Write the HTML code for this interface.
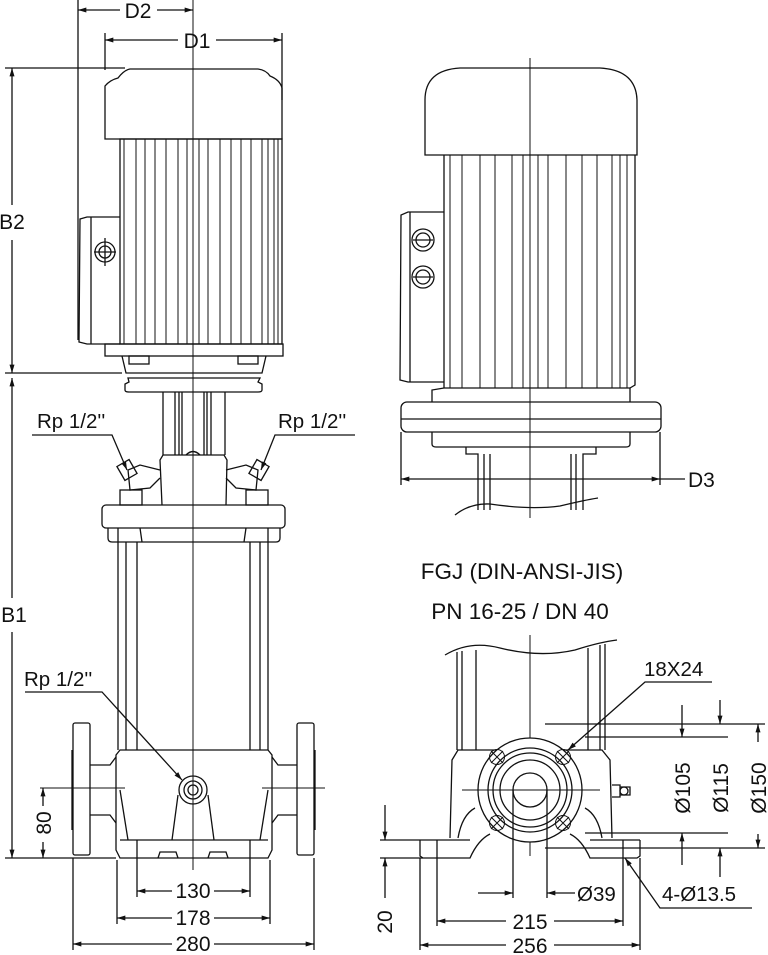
<!DOCTYPE html>
<html><head><meta charset="utf-8"><style>
html,body{margin:0;padding:0;background:#fff}
svg{display:block}
text{font-family:"Liberation Sans",Arial,sans-serif;fill:#111}
</style></head><body>
<svg width="768" height="955" viewBox="0 0 768 955" xmlns="http://www.w3.org/2000/svg">
<defs>
<marker id="a" viewBox="0 0 10 6" refX="10" refY="3" markerWidth="12" markerHeight="5" orient="auto-start-reverse" markerUnits="userSpaceOnUse"><path d="M0,0 L10,3 L0,6z" fill="#111"/></marker>
</defs>
<g fill="none" stroke="#111" stroke-width="1.3">
<line x1="193" y1="0" x2="193" y2="870" stroke-width="1"/>
<line x1="78" y1="0" x2="78" y2="340"/>
<line x1="78" y1="10" x2="120" y2="10" marker-start="url(#a)"/>
<line x1="157" y1="10" x2="193" y2="10" marker-end="url(#a)"/>
<line x1="105" y1="33" x2="105" y2="70"/><line x1="282" y1="33" x2="282" y2="100"/>
<line x1="105" y1="40" x2="178" y2="40" marker-start="url(#a)"/>
<line x1="216" y1="40" x2="282" y2="40" marker-end="url(#a)"/>
<line x1="5" y1="68" x2="125" y2="68"/><line x1="5" y1="373" x2="122" y2="373"/>
<line x1="12" y1="68" x2="12" y2="205" marker-start="url(#a)"/>
<line x1="12" y1="240" x2="12" y2="373" marker-end="url(#a)"/>
<line x1="12" y1="378" x2="12" y2="598" marker-start="url(#a)"/>
<line x1="12" y1="632" x2="12" y2="858" marker-end="url(#a)"/>
<line x1="5" y1="858" x2="116" y2="858"/>
<path d="M105,139 L105,86 Q110,80 118,78 Q124,70 130,69 L258,69 Q266,70 270,76 Q280,80 282,88 L282,139 Z"/>
<rect x="120" y="139" width="162" height="205"/>
<g stroke-width="1">
<line x1="124" y1="139" x2="124" y2="344"/><line x1="136" y1="139" x2="136" y2="344"/><line x1="145" y1="139" x2="145" y2="344"/><line x1="155" y1="139" x2="155" y2="344"/><line x1="166" y1="139" x2="166" y2="344"/><line x1="178" y1="139" x2="178" y2="344"/><line x1="187" y1="139" x2="187" y2="344"/><line x1="199" y1="139" x2="199" y2="344"/><line x1="208" y1="139" x2="208" y2="344"/><line x1="220" y1="139" x2="220" y2="344"/><line x1="231" y1="139" x2="231" y2="344"/><line x1="241" y1="139" x2="241" y2="344"/><line x1="251" y1="139" x2="251" y2="344"/><line x1="262" y1="139" x2="262" y2="344"/><line x1="268" y1="139" x2="268" y2="344"/><line x1="274" y1="139" x2="274" y2="344"/><line x1="278" y1="139" x2="278" y2="344"/>
</g>
<path d="M120,217 L87,217 L80,219 L79,342 L87,344 L120,344"/>
<line x1="91" y1="217" x2="91" y2="344"/>
<circle cx="105" cy="252" r="10"/><circle cx="105" cy="252" r="6"/>
<line x1="105" y1="238" x2="105" y2="266"/><line x1="94" y1="252" x2="116" y2="252"/>
<rect x="105" y="344" width="178" height="12"/>
<path d="M122,356 L126,373 L262,373 L266,356"/>
<rect x="129" y="356" width="20" height="8"/><rect x="238" y="356" width="20" height="8"/>
<path d="M128,378 L260,378 L258,382 L262,384 L262,390 Q262,392 258,392 L129,392 Q125,392 125,390 L125,384 L129,382 Z"/>
<line x1="163" y1="392" x2="163" y2="455"/><line x1="175" y1="392" x2="175" y2="455"/><line x1="179" y1="392" x2="179" y2="455"/><line x1="182" y1="392" x2="182" y2="455"/>
<line x1="204" y1="392" x2="204" y2="455"/><line x1="207" y1="392" x2="207" y2="455"/><line x1="211" y1="392" x2="211" y2="455"/><line x1="225" y1="392" x2="225" y2="455"/>
<path d="M186,455 Q193,448 200,455"/>
<path d="M162,505 L160,460 L163,455 L224,455 L227,460 L226,505"/>
<path d="M160,470 L140,465 L128,470 L130,490 L150,488 L160,478"/>
<path d="M226,470 L246,465 L258,470 L256,490 L236,488 L226,478"/>
<rect x="120" y="462" width="14" height="16" transform="rotate(-30 127 470)"/>
<rect x="252" y="462" width="14" height="16" transform="rotate(30 259 470)"/>
<rect x="120" y="490" width="22" height="15"/><rect x="246" y="490" width="22" height="15"/>
<rect x="102" y="505" width="183" height="23" rx="4"/>
<path d="M108,528 L108,538 Q108,542 112,542 L276,542 Q280,542 280,538 L280,528"/>
<path d="M140,528 L142,542 M246,528 L244,542"/>
<line x1="118" y1="528" x2="118" y2="750"/><line x1="126" y1="542" x2="126" y2="750"/><line x1="137" y1="542" x2="137" y2="750"/>
<line x1="250" y1="542" x2="250" y2="750"/><line x1="260" y1="542" x2="260" y2="750"/><line x1="268" y1="528" x2="268" y2="750"/>
<path d="M116,755 L120,750 L268,750 L272,755 L272,850 L268,858 L120,858 L116,850 Z"/>
<line x1="120" y1="840" x2="268" y2="840"/>
<path d="M116,757 L110,765 L90,765 M116,823 L110,815 L90,815"/>
<path d="M272,757 L278,765 L297,765 M272,823 L278,815 L297,815"/>
<rect x="73" y="723" width="17" height="132" rx="2"/><rect x="297" y="723" width="17" height="132" rx="2"/>
<path d="M72,750 L72,830 M315,750 L315,830"/>
<path d="M120,790 L128,840 M268,790 L260,840"/>
<path d="M178,795 L172,840 M208,795 L214,840"/>
<circle cx="193" cy="790" r="14"/><circle cx="193" cy="790" r="9"/><circle cx="193" cy="790" r="5"/>
<path d="M158,858 L160,852 L176,852 L178,858 M208,858 L210,852 L226,852 L228,858"/>
<line x1="40" y1="788" x2="125" y2="788" stroke-width="1"/><line x1="262" y1="788" x2="325" y2="788" stroke-width="1"/>
<line x1="43" y1="788" x2="43" y2="806" marker-start="url(#a)"/>
<line x1="43" y1="842" x2="43" y2="858" marker-end="url(#a)"/>
<line x1="137" y1="840" x2="137" y2="897"/><line x1="250" y1="840" x2="250" y2="897"/>
<line x1="117" y1="860" x2="117" y2="924"/><line x1="270" y1="860" x2="270" y2="924"/>
<line x1="73" y1="858" x2="73" y2="950"/><line x1="314" y1="858" x2="314" y2="950"/>
<line x1="137" y1="891" x2="172" y2="891" marker-start="url(#a)"/><line x1="214" y1="891" x2="250" y2="891" marker-end="url(#a)"/>
<line x1="117" y1="918" x2="172" y2="918" marker-start="url(#a)"/><line x1="214" y1="918" x2="270" y2="918" marker-end="url(#a)"/>
<line x1="73" y1="944" x2="172" y2="944" marker-start="url(#a)"/><line x1="214" y1="944" x2="314" y2="944" marker-end="url(#a)"/>
<polyline points="32,435 112,435 127,470" marker-end="url(#a)"/>
<polyline points="355,435 275,435 261,470" marker-end="url(#a)"/>
<polyline points="25,692 102,692 182,780" marker-end="url(#a)"/>

<line x1="530" y1="58" x2="530" y2="518" stroke-width="1"/>
<path d="M425,155 L425,100 Q425,70 460,68 L600,68 Q636,70 637,100 L637,155 Z"/>
<path d="M444,155 L444,388 M635,155 L635,385 L630,388"/>
<g stroke-width="1">
<line x1="450" y1="155" x2="450" y2="388"/><line x1="462" y1="155" x2="462" y2="388"/><line x1="480" y1="155" x2="480" y2="388"/><line x1="495" y1="155" x2="495" y2="388"/><line x1="512" y1="155" x2="512" y2="388"/><line x1="523" y1="155" x2="523" y2="388"/><line x1="538" y1="155" x2="538" y2="388"/><line x1="548" y1="155" x2="548" y2="388"/><line x1="566" y1="155" x2="566" y2="388"/><line x1="582" y1="155" x2="582" y2="388"/><line x1="597" y1="155" x2="597" y2="388"/><line x1="612" y1="155" x2="612" y2="388"/><line x1="620" y1="155" x2="620" y2="388"/><line x1="627" y1="155" x2="627" y2="388"/>
</g>
<path d="M444,212 L408,212 L401,215 L400,380 L408,382 L444,382"/>
<line x1="410" y1="212" x2="410" y2="382"/>
<circle cx="423" cy="240" r="11"/><circle cx="423" cy="240" r="7"/><line x1="413" y1="240" x2="433" y2="240"/>
<circle cx="423" cy="277" r="11"/><circle cx="423" cy="277" r="7"/><line x1="413" y1="277" x2="433" y2="277"/>
<path d="M432,402 L432,390 L444,388 L630,388 L630,402"/>
<rect x="401" y="402" width="260" height="30" rx="6"/>
<line x1="401" y1="419" x2="661" y2="419"/>
<path d="M432,432 L432,444 Q432,447 436,447 L626,447 Q630,447 630,444 L630,432"/>
<path d="M466,447 L466,454 L478,454 L478,510 M490,454 L490,510 M484,454 L484,510"/>
<path d="M596,447 L596,454 L583,454 L583,510 M571,454 L571,510 M576,454 L576,510"/>
<path d="M455,515 Q470,503 490,504 Q530,510 560,506 Q585,500 598,498"/>
<line x1="401" y1="432" x2="401" y2="485"/><line x1="660" y1="432" x2="660" y2="485"/>
<line x1="401" y1="479" x2="660" y2="479" marker-start="url(#a)" marker-end="url(#a)"/>
<line x1="660" y1="479" x2="685" y2="479"/>

<line x1="530" y1="635" x2="530" y2="856" stroke-width="1"/>
<path d="M445,655 Q470,640 500,648 Q540,658 575,650 Q600,642 617,640"/>
<line x1="457" y1="652" x2="457" y2="750"/><line x1="462" y1="651" x2="462" y2="750"/><line x1="476" y1="650" x2="476" y2="750"/>
<line x1="588" y1="648" x2="588" y2="750"/><line x1="600" y1="645" x2="600" y2="750"/><line x1="605" y1="644" x2="605" y2="750"/>
<path d="M450,838 L452,760 L458,750 L602,750 L610,760 L612,838"/>
<path d="M458,838 Q462,815 475,808 M602,838 Q598,815 585,808"/>
<path d="M420,840 L420,856 L423,858 L470,858 Q478,840 490,834 M640,840 L640,856 L637,858 L590,858 Q582,840 570,834"/>
<path d="M420,840 L470,840 M640,840 L590,840 M423,858 L420,858"/>
<line x1="437" y1="840" x2="437" y2="858"/><line x1="623" y1="840" x2="623" y2="858"/>
<circle cx="530" cy="790" r="52" fill="#fff"/><circle cx="530" cy="790" r="42"/><circle cx="530" cy="790" r="37"/><circle cx="530" cy="790" r="30"/><circle cx="530" cy="790" r="17"/>
<g stroke-width="1">
<circle cx="497" cy="757" r="7.5"/><circle cx="563" cy="757" r="7.5"/><circle cx="497" cy="823" r="7.5"/><circle cx="563" cy="823" r="7.5"/>
<path d="M491,751 L503,763 M503,751 L491,763 M557,751 L569,763 M569,751 L557,763 M491,817 L503,829 M503,817 L491,829 M557,817 L569,829 M569,817 L557,829"/>
</g>
<line x1="462" y1="790" x2="600" y2="790" stroke-width="1"/>
<path d="M612,785 L620,785 L620,797 L612,797 M620,787 L630,787 L630,795 L620,795"/>
<circle cx="624" cy="791" r="4"/>
<line x1="545" y1="724" x2="765" y2="724"/><line x1="585" y1="737" x2="728" y2="737"/>
<line x1="585" y1="833" x2="728" y2="833"/><line x1="545" y1="848" x2="765" y2="848"/>
<line x1="682" y1="705" x2="682" y2="737" marker-end="url(#a)"/>
<line x1="682" y1="833" x2="682" y2="865" marker-start="url(#a)"/>
<line x1="720" y1="700" x2="720" y2="724" marker-end="url(#a)"/>
<line x1="720" y1="848" x2="720" y2="877" marker-start="url(#a)"/>
<line x1="758" y1="724" x2="758" y2="742" marker-start="url(#a)"/>
<line x1="758" y1="834" x2="758" y2="848" marker-end="url(#a)"/>
<polyline points="712,682 645,682 568,750" marker-end="url(#a)"/>
<polyline points="752,908 660,908 625,858" marker-end="url(#a)"/>
<line x1="513" y1="790" x2="513" y2="898"/><line x1="547" y1="790" x2="547" y2="898"/>
<line x1="478" y1="893" x2="513" y2="893" marker-end="url(#a)"/>
<line x1="575" y1="893" x2="547" y2="893" marker-end="url(#a)"/>
<line x1="437" y1="858" x2="437" y2="926"/><line x1="623" y1="858" x2="623" y2="926"/>
<line x1="420" y1="858" x2="420" y2="950"/><line x1="640" y1="858" x2="640" y2="950"/>
<line x1="437" y1="921" x2="506" y2="921" marker-start="url(#a)"/><line x1="554" y1="921" x2="623" y2="921" marker-end="url(#a)"/>
<line x1="420" y1="945" x2="506" y2="945" marker-start="url(#a)"/><line x1="554" y1="945" x2="640" y2="945" marker-end="url(#a)"/>
<line x1="380" y1="840" x2="420" y2="840"/><line x1="380" y1="858" x2="420" y2="858"/>
<line x1="385" y1="805" x2="385" y2="840" marker-end="url(#a)"/>
<line x1="385" y1="898" x2="385" y2="858" marker-end="url(#a)"/>
</g>
<g font-size="21">
<text x="138" y="18" text-anchor="middle">D2</text>
<text x="197" y="48" text-anchor="middle">D1</text>
<text x="12" y="229" text-anchor="middle">B2</text>
<text x="14" y="622" text-anchor="middle">B1</text>
<text x="193" y="898" text-anchor="middle">130</text>
<text x="193" y="925" text-anchor="middle">178</text>
<text x="193" y="951" text-anchor="middle">280</text>
<text transform="translate(51,823) rotate(-90)" text-anchor="middle">80</text>
<text x="37" y="428" font-size="20.5">Rp 1/2''</text>
<text x="278" y="428" font-size="20.5">Rp 1/2''</text>
<text x="24" y="686" font-size="20.5">Rp 1/2''</text>
<text x="688" y="487">D3</text>
<text x="522" y="579" text-anchor="middle" font-size="22.5">FGJ (DIN-ANSI-JIS)</text>
<text x="520" y="619" text-anchor="middle" font-size="22.5">PN 16-25 / DN 40</text>
<text x="644" y="676" font-size="20.5">18X24</text>
<text x="577" y="901" font-size="20.5">Ø39</text>
<text x="530" y="929" text-anchor="middle">215</text>
<text x="530" y="953" text-anchor="middle">256</text>
<text x="662" y="901" font-size="20.5">4-Ø13.5</text>
<text transform="translate(392,922) rotate(-90)" text-anchor="middle">20</text>
<text transform="translate(690,788) rotate(-90)" text-anchor="middle">Ø105</text>
<text transform="translate(728,788) rotate(-90)" text-anchor="middle">Ø115</text>
<text transform="translate(766,788) rotate(-90)" text-anchor="middle">Ø150</text>
</g>
</svg>
</body></html>
